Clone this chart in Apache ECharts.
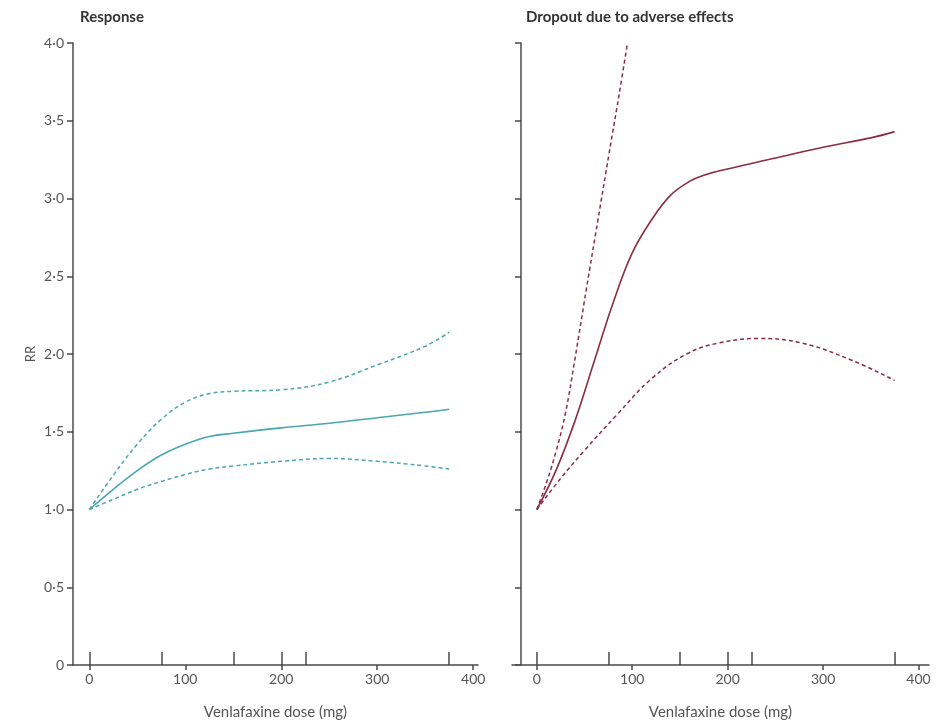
<!DOCTYPE html>
<html>
<head>
<meta charset="utf-8">
<script src="https://cdn.jsdelivr.net/npm/echarts@6/dist/echarts.min.js"></script>
<style>
html, body { margin: 0; padding: 0; background: #fff; }
#chart { width: 942px; height: 725px; }
</style>
</head>
<body>
<div id="chart"></div>
<script>
// Response panel
const respDose = [0, 25, 50, 75, 100, 125, 150, 200, 250, 300, 350, 375]
const respMain = [1.0, 1.13, 1.25, 1.35, 1.42, 1.47, 1.49, 1.525, 1.555, 1.59, 1.625, 1.645]
const respUpper = [1.0, 1.22, 1.42, 1.58, 1.69, 1.745, 1.76, 1.77, 1.82, 1.93, 2.05, 2.14]
const respLower = [1.0, 1.065, 1.13, 1.18, 1.225, 1.26, 1.28, 1.31, 1.328, 1.31, 1.28, 1.26]

// Dropout panel
const dropDose = [0, 20, 40, 60, 80, 100, 120, 140, 160, 175, 200, 250, 300, 350, 375]
const dropMain = [1.0, 1.25, 1.57, 1.95, 2.33, 2.65, 2.86, 3.02, 3.11, 3.15, 3.19, 3.26, 3.33, 3.39, 3.43]
const dropUpperDose = [0, 10, 20, 30, 40, 52, 64, 76, 86, 95]
const dropUpper = [1.0, 1.17, 1.37, 1.62, 1.97, 2.42, 2.86, 3.30, 3.66, 4.0]
const dropLowerDose = [0, 25, 50, 84, 120, 157, 190, 233, 278, 330, 375]
const dropLower = [1.0, 1.2, 1.38, 1.61, 1.84, 2.0, 2.07, 2.10, 2.07, 1.96, 1.83]

// axis ticks
const doseLabels = [0, 100, 200, 300, 400]
const studyDoses = [0, 75, 150, 200, 225, 375]

const panelTitles = ['Response', 'Dropout due to adverse effects']
const xTitle = 'Venlafaxine dose (mg)'
const yTitle = 'RR'

const axisColor = '#4a4a4a'
const labelColor = '#555'
const font = 'Lato'
const teal = '#4aa6b0'
const wine = '#8c2c40'

function pairs(xs, ys) {
  return xs.map((x, i) => [x, ys[i]])
}

function yLabel(v) {
  return v === 0 ? '0' : v.toFixed(1).replace('.', '·')
}

function mainX(grid, min, max) {
  return {
    type: 'value',
    gridIndex: grid,
    min: min,
    max: max,
    position: 'bottom',
    name: xTitle,
    nameLocation: 'middle',
    nameGap: 40,
    nameTextStyle: { fontFamily: font, fontSize: 15, color: labelColor },
    axisLine: { show: true, onZero: false, lineStyle: { color: axisColor, width: 1.5 } },
    axisTick: { show: true, length: 5, customValues: doseLabels, lineStyle: { color: axisColor, width: 1.5 } },
    axisLabel: { customValues: doseLabels, fontFamily: font, fontSize: 14, color: labelColor, margin: 7 },
    splitLine: { show: false }
  }
}

function studyX(grid, min, max) {
  return {
    type: 'value',
    gridIndex: grid,
    min: min,
    max: max,
    position: 'bottom',
    offset: 0,
    axisLine: { show: false, onZero: false },
    axisTick: { show: true, inside: true, length: 13, customValues: studyDoses, lineStyle: { color: axisColor, width: 1.5 } },
    axisLabel: { show: false },
    splitLine: { show: false }
  }
}

function yAxisFor(grid, showLabels, offset) {
  return {
    type: 'value',
    gridIndex: grid,
    min: 0,
    max: 4,
    interval: 0.5,
    position: 'left',
    offset: offset,
    name: showLabels ? yTitle : '',
    nameLocation: 'middle',
    nameRotate: 90,
    nameGap: 36,
    nameTextStyle: { fontFamily: font, fontSize: 13, color: labelColor },
    axisLine: { show: true, onZero: false, lineStyle: { color: axisColor, width: 1.5 } },
    axisTick: { show: true, length: 6, lineStyle: { color: axisColor, width: 1.5 } },
    axisLabel: { show: showLabels, formatter: yLabel, fontFamily: font, fontSize: 14, color: labelColor, margin: 9 },
    splitLine: { show: false }
  }
}

function line(xIdx, yIdx, data, color, dashed, width) {
  return {
    type: 'line',
    xAxisIndex: xIdx,
    yAxisIndex: yIdx,
    data: data,
    smooth: 0.4,
    showSymbol: false,
    silent: true,
    lineStyle: { color: color, width: width, type: dashed ? [4, 3] : 'solid' }
  }
}

const chart = echarts.init(document.getElementById('chart'))
chart.setOption({
  animation: false,
  backgroundColor: '#fff',
  title: [
    { text: panelTitles[0], left: 75, top: 5, textStyle: { fontFamily: font, fontSize: 15, fontWeight: 'bold', color: '#333' } },
    { text: panelTitles[1], left: 521, top: 5, textStyle: { fontFamily: font, fontSize: 15, fontWeight: 'bold', color: '#333' } }
  ],
  grid: [
    { left: 73, top: 43, width: 405, height: 627 },
    { left: 512, top: 43, width: 417, height: 627 }
  ],
  xAxis: [
    mainX(0, -17, 405),
    mainX(1, -26, 411),
    studyX(0, -17, 405),
    studyX(1, -26, 411)
  ],
  yAxis: [
    yAxisFor(0, true, 0),
    yAxisFor(1, false, -9)
  ],
  series: [
    line(0, 0, pairs(respDose, respUpper), teal, true, 1.5),
    line(0, 0, pairs(respDose, respLower), teal, true, 1.5),
    line(0, 0, pairs(respDose, respMain), teal, false, 1.6),
    line(1, 1, pairs(dropUpperDose, dropUpper), wine, true, 1.5),
    line(1, 1, pairs(dropLowerDose, dropLower), wine, true, 1.5),
    line(1, 1, pairs(dropDose, dropMain), wine, false, 1.6)
  ]
})
</script>
</body>
</html>
